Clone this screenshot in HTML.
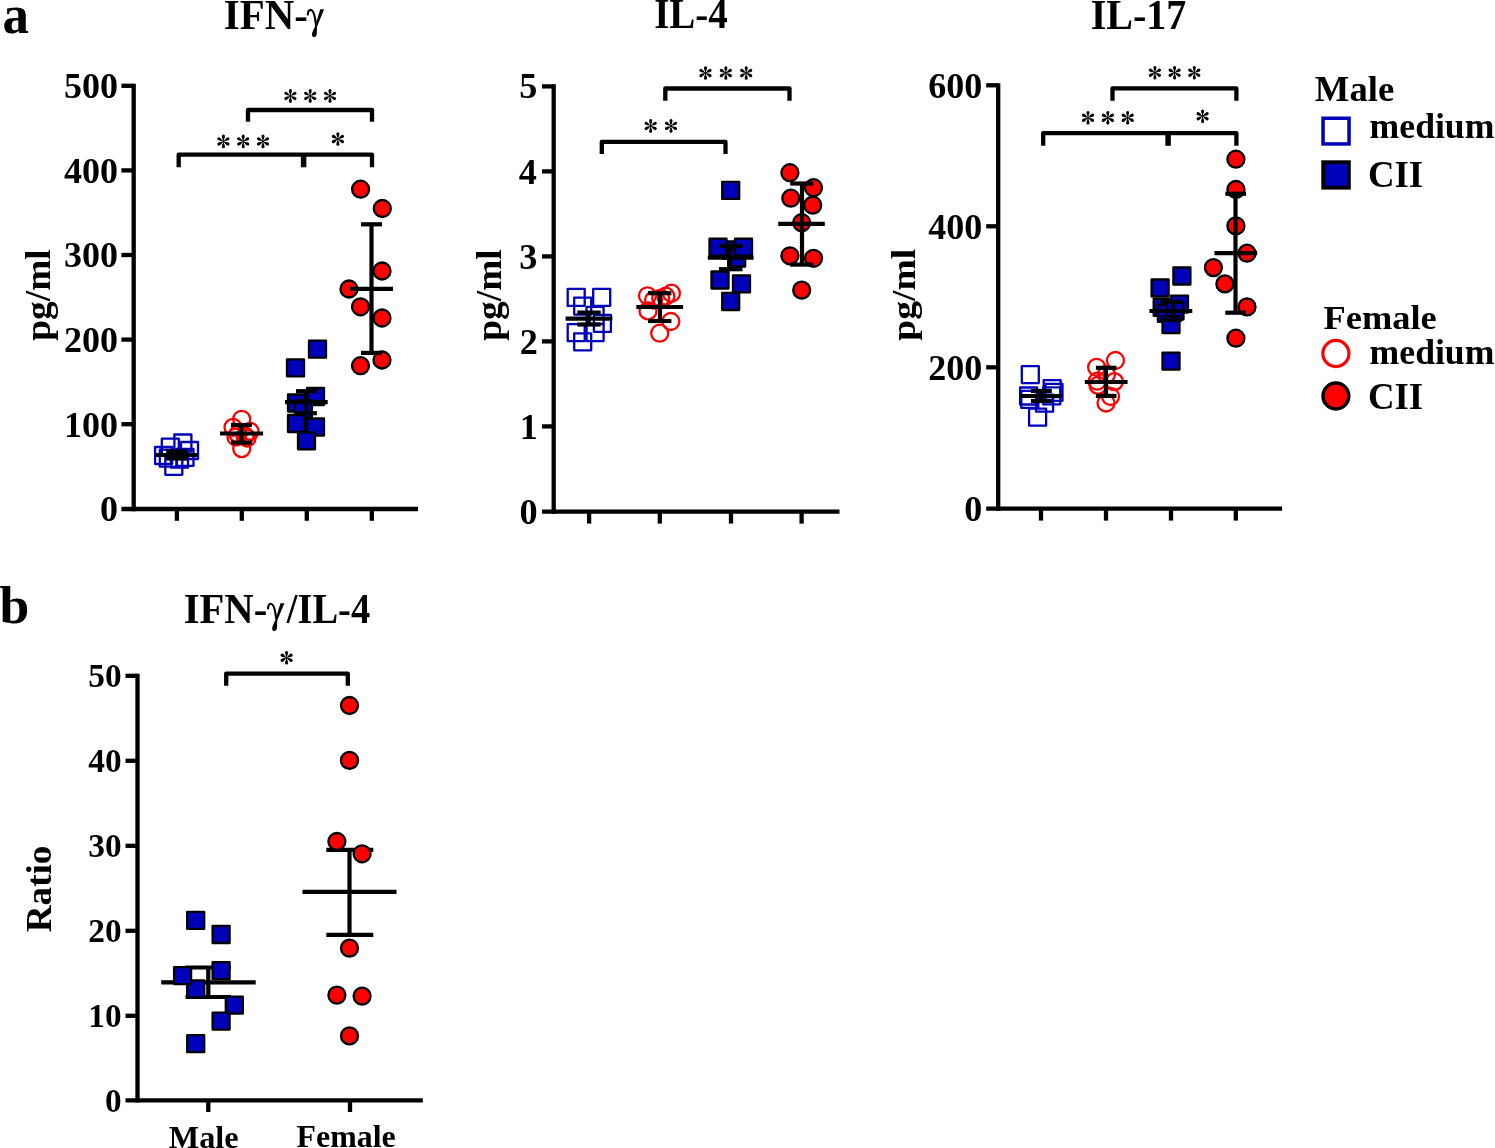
<!DOCTYPE html>
<html><head><meta charset="utf-8"><style>
html,body{margin:0;padding:0;background:#fff;}
body{width:1495px;height:1148px;overflow:hidden;}
svg{display:block;will-change:transform;}
svg text{font-family:'Liberation Serif',serif;font-weight:bold;fill:#000;}
</style></head><body>
<svg width="1495" height="1148" viewBox="0 0 1495 1148">
<text transform="translate(2.41,32.94) scale(0.9522,1)" x="0" y="0" font-size="55.62">a</text>
<text transform="translate(-0.40,623.47) scale(1.0158,1)" x="0" y="0" font-size="52.77">b</text>
<text transform="translate(223.77,28.70) scale(0.9697,1)" x="0" y="0" font-size="42.14">IFN-</text>
<g transform="translate(306.80,8.80)"><path d="M1.05,5.8 C1.05,2.6 2.25,1.05 3.65,1.05 C6.25,1.05 7.55,5.2 8.35,10.2 L9.25,16.2" fill="none" stroke="#000" stroke-width="2.1" stroke-linecap="round"/><path d="M13.45,0.5 L17.35,0.5 L10.35,17.5 L8.85,15.7 Z" fill="#000"/><path d="M8.55,16.7 C7.45,19.7 5.15,23.2 5.15,26 C5.15,27.4 6.15,28.3 7.35,28.3 C8.95,28.3 10.05,26.7 10.05,24.2 C10.05,21.2 10.15,18.7 10.35,16.7 Z" fill="#000"/></g>
<text transform="translate(654.13,28.40) scale(0.9433,1)" x="0" y="0" font-size="41.36">IL-4</text>
<text transform="translate(1090.70,28.70) scale(0.9575,1)" x="0" y="0" font-size="41.82">IL-17</text>
<text transform="translate(183.68,622.80) scale(0.9614,1)" x="0" y="0" font-size="42.29">IFN-</text>
<g transform="translate(267.00,602.70)"><path d="M1.05,5.8 C1.05,2.6 2.25,1.05 3.65,1.05 C6.25,1.05 7.55,5.2 8.35,10.2 L9.25,16.2" fill="none" stroke="#000" stroke-width="2.1" stroke-linecap="round"/><path d="M13.45,0.5 L17.35,0.5 L10.35,17.5 L8.85,15.7 Z" fill="#000"/><path d="M8.55,16.7 C7.45,19.7 5.15,23.2 5.15,26 C5.15,27.4 6.15,28.3 7.35,28.3 C8.95,28.3 10.05,26.7 10.05,24.2 C10.05,21.2 10.15,18.7 10.35,16.7 Z" fill="#000"/></g>
<text transform="translate(286.78,622.78) scale(0.9172,1)" x="0" y="0" font-size="41.94">/IL-4</text>
<text transform="translate(50.13,340.66) rotate(-90) scale(1.0712,1)" x="0" y="0" font-size="34.86">pg/ml</text>
<text transform="translate(501.43,340.66) rotate(-90) scale(1.0712,1)" x="0" y="0" font-size="34.86">pg/ml</text>
<text transform="translate(914.78,340.66) rotate(-90) scale(1.0839,1)" x="0" y="0" font-size="34.64">pg/ml</text>
<text transform="translate(50.54,932.26) rotate(-90) scale(1.0434,1)" x="0" y="0" font-size="35.60">Ratio</text>
<text x="168.72" y="1147.54" font-size="32.28">Male</text>
<text x="296.62" y="1147.26" font-size="31.89">Female</text>
<text transform="translate(1314.85,100.85) scale(1.0421,1)" x="0" y="0" font-size="35.18">Male</text>
<text transform="translate(1369.61,138.35) scale(1.0137,1)" x="0" y="0" font-size="35.18">medium</text>
<text transform="translate(1367.96,187.22) scale(0.9712,1)" x="0" y="0" font-size="37.91">CII</text>
<text transform="translate(1323.55,329.26) scale(1.0787,1)" x="0" y="0" font-size="33.76">Female</text>
<text transform="translate(1369.61,363.95) scale(1.0137,1)" x="0" y="0" font-size="35.18">medium</text>
<text transform="translate(1367.96,409.02) scale(0.9712,1)" x="0" y="0" font-size="37.91">CII</text>
<rect x="1323.05" y="118.25" width="26.00" height="25.70" fill="none" stroke="#0000BB" stroke-width="3.5"/>
<rect x="1323.20" y="162.20" width="25.70" height="25.50" fill="#0000BB" stroke="#000" stroke-width="3.8"/>
<circle cx="1335.9" cy="353.5" r="13.05" fill="none" stroke="#FF0000" stroke-width="3.2"/>
<circle cx="1335.9" cy="396" r="12.95" fill="#FF0000" stroke="#000" stroke-width="3.4"/>
<line x1="133.70" y1="83.65" x2="133.70" y2="511.15" stroke="#000" stroke-width="4.3" stroke-linecap="butt"/>
<line x1="121.40" y1="85.80" x2="133.70" y2="85.80" stroke="#000" stroke-width="4.3" stroke-linecap="butt"/>
<line x1="121.40" y1="170.40" x2="133.70" y2="170.40" stroke="#000" stroke-width="4.3" stroke-linecap="butt"/>
<line x1="121.40" y1="255.00" x2="133.70" y2="255.00" stroke="#000" stroke-width="4.3" stroke-linecap="butt"/>
<line x1="121.40" y1="339.60" x2="133.70" y2="339.60" stroke="#000" stroke-width="4.3" stroke-linecap="butt"/>
<line x1="121.40" y1="424.20" x2="133.70" y2="424.20" stroke="#000" stroke-width="4.3" stroke-linecap="butt"/>
<line x1="121.40" y1="509.00" x2="418.00" y2="509.00" stroke="#000" stroke-width="4.3" stroke-linecap="butt"/>
<line x1="176.90" y1="509.00" x2="176.90" y2="520.80" stroke="#000" stroke-width="4.3" stroke-linecap="butt"/>
<line x1="241.80" y1="509.00" x2="241.80" y2="520.80" stroke="#000" stroke-width="4.3" stroke-linecap="butt"/>
<line x1="306.80" y1="509.00" x2="306.80" y2="520.80" stroke="#000" stroke-width="4.3" stroke-linecap="butt"/>
<line x1="371.80" y1="509.00" x2="371.80" y2="520.80" stroke="#000" stroke-width="4.3" stroke-linecap="butt"/>
<text x="63.94" y="98.19" font-size="36.00" text-anchor="start">500</text>
<text x="63.94" y="182.79" font-size="36.00" text-anchor="start">400</text>
<text x="63.94" y="267.39" font-size="36.00" text-anchor="start">300</text>
<text x="63.94" y="351.99" font-size="36.00" text-anchor="start">200</text>
<text x="63.94" y="436.59" font-size="36.00" text-anchor="start">100</text>
<text x="99.94" y="521.19" font-size="36.00" text-anchor="start">0</text>
<path d="M248.00,121.70 L248.00,110.00 L372.00,110.00 L372.00,121.70" fill="none" stroke="#000" stroke-width="4.3" stroke-linejoin="round"/>
<path d="M178.70,167.30 L178.70,154.70 L372.00,154.70 L372.00,167.30" fill="none" stroke="#000" stroke-width="4.3" stroke-linejoin="round"/>
<line x1="303.60" y1="154.70" x2="303.60" y2="167.30" stroke="#000" stroke-width="5.5" stroke-linecap="butt"/>
<g fill="#000"><path transform="translate(290.40,95.90) rotate(0)" d="M0,0 C-0.45,-1.8 -1.55,-3.6 -1.55,-5.25 A1.55,1.55 0 0 1 1.55,-5.25 C1.55,-3.6 0.45,-1.8 0,0 Z"/><path transform="translate(290.40,95.90) rotate(60)" d="M0,0 C-0.45,-1.8 -1.55,-3.6 -1.55,-5.25 A1.55,1.55 0 0 1 1.55,-5.25 C1.55,-3.6 0.45,-1.8 0,0 Z"/><path transform="translate(290.40,95.90) rotate(120)" d="M0,0 C-0.45,-1.8 -1.55,-3.6 -1.55,-5.25 A1.55,1.55 0 0 1 1.55,-5.25 C1.55,-3.6 0.45,-1.8 0,0 Z"/><path transform="translate(290.40,95.90) rotate(180)" d="M0,0 C-0.45,-1.8 -1.55,-3.6 -1.55,-5.25 A1.55,1.55 0 0 1 1.55,-5.25 C1.55,-3.6 0.45,-1.8 0,0 Z"/><path transform="translate(290.40,95.90) rotate(240)" d="M0,0 C-0.45,-1.8 -1.55,-3.6 -1.55,-5.25 A1.55,1.55 0 0 1 1.55,-5.25 C1.55,-3.6 0.45,-1.8 0,0 Z"/><path transform="translate(290.40,95.90) rotate(300)" d="M0,0 C-0.45,-1.8 -1.55,-3.6 -1.55,-5.25 A1.55,1.55 0 0 1 1.55,-5.25 C1.55,-3.6 0.45,-1.8 0,0 Z"/><circle cx="290.40" cy="95.90" r="1.1"/></g>
<g fill="#000"><path transform="translate(310.20,95.90) rotate(0)" d="M0,0 C-0.45,-1.8 -1.55,-3.6 -1.55,-5.25 A1.55,1.55 0 0 1 1.55,-5.25 C1.55,-3.6 0.45,-1.8 0,0 Z"/><path transform="translate(310.20,95.90) rotate(60)" d="M0,0 C-0.45,-1.8 -1.55,-3.6 -1.55,-5.25 A1.55,1.55 0 0 1 1.55,-5.25 C1.55,-3.6 0.45,-1.8 0,0 Z"/><path transform="translate(310.20,95.90) rotate(120)" d="M0,0 C-0.45,-1.8 -1.55,-3.6 -1.55,-5.25 A1.55,1.55 0 0 1 1.55,-5.25 C1.55,-3.6 0.45,-1.8 0,0 Z"/><path transform="translate(310.20,95.90) rotate(180)" d="M0,0 C-0.45,-1.8 -1.55,-3.6 -1.55,-5.25 A1.55,1.55 0 0 1 1.55,-5.25 C1.55,-3.6 0.45,-1.8 0,0 Z"/><path transform="translate(310.20,95.90) rotate(240)" d="M0,0 C-0.45,-1.8 -1.55,-3.6 -1.55,-5.25 A1.55,1.55 0 0 1 1.55,-5.25 C1.55,-3.6 0.45,-1.8 0,0 Z"/><path transform="translate(310.20,95.90) rotate(300)" d="M0,0 C-0.45,-1.8 -1.55,-3.6 -1.55,-5.25 A1.55,1.55 0 0 1 1.55,-5.25 C1.55,-3.6 0.45,-1.8 0,0 Z"/><circle cx="310.20" cy="95.90" r="1.1"/></g>
<g fill="#000"><path transform="translate(330.00,95.90) rotate(0)" d="M0,0 C-0.45,-1.8 -1.55,-3.6 -1.55,-5.25 A1.55,1.55 0 0 1 1.55,-5.25 C1.55,-3.6 0.45,-1.8 0,0 Z"/><path transform="translate(330.00,95.90) rotate(60)" d="M0,0 C-0.45,-1.8 -1.55,-3.6 -1.55,-5.25 A1.55,1.55 0 0 1 1.55,-5.25 C1.55,-3.6 0.45,-1.8 0,0 Z"/><path transform="translate(330.00,95.90) rotate(120)" d="M0,0 C-0.45,-1.8 -1.55,-3.6 -1.55,-5.25 A1.55,1.55 0 0 1 1.55,-5.25 C1.55,-3.6 0.45,-1.8 0,0 Z"/><path transform="translate(330.00,95.90) rotate(180)" d="M0,0 C-0.45,-1.8 -1.55,-3.6 -1.55,-5.25 A1.55,1.55 0 0 1 1.55,-5.25 C1.55,-3.6 0.45,-1.8 0,0 Z"/><path transform="translate(330.00,95.90) rotate(240)" d="M0,0 C-0.45,-1.8 -1.55,-3.6 -1.55,-5.25 A1.55,1.55 0 0 1 1.55,-5.25 C1.55,-3.6 0.45,-1.8 0,0 Z"/><path transform="translate(330.00,95.90) rotate(300)" d="M0,0 C-0.45,-1.8 -1.55,-3.6 -1.55,-5.25 A1.55,1.55 0 0 1 1.55,-5.25 C1.55,-3.6 0.45,-1.8 0,0 Z"/><circle cx="330.00" cy="95.90" r="1.1"/></g>
<g fill="#000"><path transform="translate(223.40,141.40) rotate(0)" d="M0,0 C-0.45,-1.8 -1.55,-3.6 -1.55,-5.25 A1.55,1.55 0 0 1 1.55,-5.25 C1.55,-3.6 0.45,-1.8 0,0 Z"/><path transform="translate(223.40,141.40) rotate(60)" d="M0,0 C-0.45,-1.8 -1.55,-3.6 -1.55,-5.25 A1.55,1.55 0 0 1 1.55,-5.25 C1.55,-3.6 0.45,-1.8 0,0 Z"/><path transform="translate(223.40,141.40) rotate(120)" d="M0,0 C-0.45,-1.8 -1.55,-3.6 -1.55,-5.25 A1.55,1.55 0 0 1 1.55,-5.25 C1.55,-3.6 0.45,-1.8 0,0 Z"/><path transform="translate(223.40,141.40) rotate(180)" d="M0,0 C-0.45,-1.8 -1.55,-3.6 -1.55,-5.25 A1.55,1.55 0 0 1 1.55,-5.25 C1.55,-3.6 0.45,-1.8 0,0 Z"/><path transform="translate(223.40,141.40) rotate(240)" d="M0,0 C-0.45,-1.8 -1.55,-3.6 -1.55,-5.25 A1.55,1.55 0 0 1 1.55,-5.25 C1.55,-3.6 0.45,-1.8 0,0 Z"/><path transform="translate(223.40,141.40) rotate(300)" d="M0,0 C-0.45,-1.8 -1.55,-3.6 -1.55,-5.25 A1.55,1.55 0 0 1 1.55,-5.25 C1.55,-3.6 0.45,-1.8 0,0 Z"/><circle cx="223.40" cy="141.40" r="1.1"/></g>
<g fill="#000"><path transform="translate(243.20,141.40) rotate(0)" d="M0,0 C-0.45,-1.8 -1.55,-3.6 -1.55,-5.25 A1.55,1.55 0 0 1 1.55,-5.25 C1.55,-3.6 0.45,-1.8 0,0 Z"/><path transform="translate(243.20,141.40) rotate(60)" d="M0,0 C-0.45,-1.8 -1.55,-3.6 -1.55,-5.25 A1.55,1.55 0 0 1 1.55,-5.25 C1.55,-3.6 0.45,-1.8 0,0 Z"/><path transform="translate(243.20,141.40) rotate(120)" d="M0,0 C-0.45,-1.8 -1.55,-3.6 -1.55,-5.25 A1.55,1.55 0 0 1 1.55,-5.25 C1.55,-3.6 0.45,-1.8 0,0 Z"/><path transform="translate(243.20,141.40) rotate(180)" d="M0,0 C-0.45,-1.8 -1.55,-3.6 -1.55,-5.25 A1.55,1.55 0 0 1 1.55,-5.25 C1.55,-3.6 0.45,-1.8 0,0 Z"/><path transform="translate(243.20,141.40) rotate(240)" d="M0,0 C-0.45,-1.8 -1.55,-3.6 -1.55,-5.25 A1.55,1.55 0 0 1 1.55,-5.25 C1.55,-3.6 0.45,-1.8 0,0 Z"/><path transform="translate(243.20,141.40) rotate(300)" d="M0,0 C-0.45,-1.8 -1.55,-3.6 -1.55,-5.25 A1.55,1.55 0 0 1 1.55,-5.25 C1.55,-3.6 0.45,-1.8 0,0 Z"/><circle cx="243.20" cy="141.40" r="1.1"/></g>
<g fill="#000"><path transform="translate(263.00,141.40) rotate(0)" d="M0,0 C-0.45,-1.8 -1.55,-3.6 -1.55,-5.25 A1.55,1.55 0 0 1 1.55,-5.25 C1.55,-3.6 0.45,-1.8 0,0 Z"/><path transform="translate(263.00,141.40) rotate(60)" d="M0,0 C-0.45,-1.8 -1.55,-3.6 -1.55,-5.25 A1.55,1.55 0 0 1 1.55,-5.25 C1.55,-3.6 0.45,-1.8 0,0 Z"/><path transform="translate(263.00,141.40) rotate(120)" d="M0,0 C-0.45,-1.8 -1.55,-3.6 -1.55,-5.25 A1.55,1.55 0 0 1 1.55,-5.25 C1.55,-3.6 0.45,-1.8 0,0 Z"/><path transform="translate(263.00,141.40) rotate(180)" d="M0,0 C-0.45,-1.8 -1.55,-3.6 -1.55,-5.25 A1.55,1.55 0 0 1 1.55,-5.25 C1.55,-3.6 0.45,-1.8 0,0 Z"/><path transform="translate(263.00,141.40) rotate(240)" d="M0,0 C-0.45,-1.8 -1.55,-3.6 -1.55,-5.25 A1.55,1.55 0 0 1 1.55,-5.25 C1.55,-3.6 0.45,-1.8 0,0 Z"/><path transform="translate(263.00,141.40) rotate(300)" d="M0,0 C-0.45,-1.8 -1.55,-3.6 -1.55,-5.25 A1.55,1.55 0 0 1 1.55,-5.25 C1.55,-3.6 0.45,-1.8 0,0 Z"/><circle cx="263.00" cy="141.40" r="1.1"/></g>
<g fill="#000"><path transform="translate(337.90,139.00) rotate(0)" d="M0,0 C-0.45,-1.8 -1.55,-3.6 -1.55,-5.25 A1.55,1.55 0 0 1 1.55,-5.25 C1.55,-3.6 0.45,-1.8 0,0 Z"/><path transform="translate(337.90,139.00) rotate(60)" d="M0,0 C-0.45,-1.8 -1.55,-3.6 -1.55,-5.25 A1.55,1.55 0 0 1 1.55,-5.25 C1.55,-3.6 0.45,-1.8 0,0 Z"/><path transform="translate(337.90,139.00) rotate(120)" d="M0,0 C-0.45,-1.8 -1.55,-3.6 -1.55,-5.25 A1.55,1.55 0 0 1 1.55,-5.25 C1.55,-3.6 0.45,-1.8 0,0 Z"/><path transform="translate(337.90,139.00) rotate(180)" d="M0,0 C-0.45,-1.8 -1.55,-3.6 -1.55,-5.25 A1.55,1.55 0 0 1 1.55,-5.25 C1.55,-3.6 0.45,-1.8 0,0 Z"/><path transform="translate(337.90,139.00) rotate(240)" d="M0,0 C-0.45,-1.8 -1.55,-3.6 -1.55,-5.25 A1.55,1.55 0 0 1 1.55,-5.25 C1.55,-3.6 0.45,-1.8 0,0 Z"/><path transform="translate(337.90,139.00) rotate(300)" d="M0,0 C-0.45,-1.8 -1.55,-3.6 -1.55,-5.25 A1.55,1.55 0 0 1 1.55,-5.25 C1.55,-3.6 0.45,-1.8 0,0 Z"/><circle cx="337.90" cy="139.00" r="1.1"/></g>
<rect x="174.40" y="434.50" width="17.0" height="17.0" fill="none" stroke="#0000BB" stroke-width="2.3" stroke-linejoin="round"/>
<rect x="161.80" y="438.70" width="17.0" height="17.0" fill="none" stroke="#0000BB" stroke-width="2.3" stroke-linejoin="round"/>
<rect x="181.00" y="442.00" width="17.0" height="17.0" fill="none" stroke="#0000BB" stroke-width="2.3" stroke-linejoin="round"/>
<rect x="155.10" y="447.00" width="17.0" height="17.0" fill="none" stroke="#0000BB" stroke-width="2.3" stroke-linejoin="round"/>
<rect x="159.80" y="449.70" width="17.0" height="17.0" fill="none" stroke="#0000BB" stroke-width="2.3" stroke-linejoin="round"/>
<rect x="165.30" y="457.80" width="17.0" height="17.0" fill="none" stroke="#0000BB" stroke-width="2.3" stroke-linejoin="round"/>
<rect x="176.50" y="448.90" width="17.0" height="17.0" fill="none" stroke="#0000BB" stroke-width="2.3" stroke-linejoin="round"/>
<rect x="171.00" y="450.70" width="17.0" height="17.0" fill="none" stroke="#0000BB" stroke-width="2.3" stroke-linejoin="round"/>
<line x1="177.00" y1="451.50" x2="177.00" y2="458.50" stroke="#000" stroke-width="4.2" stroke-linecap="butt"/>
<line x1="166.20" y1="451.50" x2="187.10" y2="451.50" stroke="#000" stroke-width="4.2" stroke-linecap="butt"/>
<line x1="166.20" y1="458.50" x2="187.10" y2="458.50" stroke="#000" stroke-width="4.2" stroke-linecap="butt"/>
<line x1="155.20" y1="455.00" x2="197.80" y2="455.00" stroke="#000" stroke-width="4.2" stroke-linecap="butt"/>
<circle cx="241.70" cy="419.30" r="8.5" fill="none" stroke="#FF0000" stroke-width="2.3"/>
<circle cx="233.00" cy="427.40" r="8.5" fill="none" stroke="#FF0000" stroke-width="2.3"/>
<circle cx="250.00" cy="431.40" r="8.5" fill="none" stroke="#FF0000" stroke-width="2.3"/>
<circle cx="241.70" cy="448.60" r="8.5" fill="none" stroke="#FF0000" stroke-width="2.3"/>
<circle cx="238.00" cy="434.00" r="8.5" fill="none" stroke="#FF0000" stroke-width="2.3"/>
<circle cx="245.00" cy="436.00" r="8.5" fill="none" stroke="#FF0000" stroke-width="2.3"/>
<circle cx="236.00" cy="437.00" r="8.5" fill="none" stroke="#FF0000" stroke-width="2.3"/>
<circle cx="247.00" cy="438.00" r="8.5" fill="none" stroke="#FF0000" stroke-width="2.3"/>
<line x1="241.30" y1="425.00" x2="241.30" y2="442.60" stroke="#000" stroke-width="4.2" stroke-linecap="butt"/>
<line x1="231.00" y1="425.00" x2="251.90" y2="425.00" stroke="#000" stroke-width="4.2" stroke-linecap="butt"/>
<line x1="231.00" y1="442.60" x2="251.90" y2="442.60" stroke="#000" stroke-width="4.2" stroke-linecap="butt"/>
<line x1="220.00" y1="433.50" x2="263.10" y2="433.50" stroke="#000" stroke-width="4.2" stroke-linecap="butt"/>
<rect x="309.00" y="340.70" width="17.0" height="17.0" fill="#0000BB" stroke="#000" stroke-width="2.3" stroke-linejoin="round"/>
<rect x="287.00" y="359.40" width="17.0" height="17.0" fill="#0000BB" stroke="#000" stroke-width="2.3" stroke-linejoin="round"/>
<rect x="307.00" y="388.00" width="17.0" height="17.0" fill="#0000BB" stroke="#000" stroke-width="2.3" stroke-linejoin="round"/>
<rect x="288.00" y="394.50" width="17.0" height="17.0" fill="#0000BB" stroke="#000" stroke-width="2.3" stroke-linejoin="round"/>
<rect x="294.90" y="400.50" width="17.0" height="17.0" fill="#0000BB" stroke="#000" stroke-width="2.3" stroke-linejoin="round"/>
<rect x="288.00" y="415.00" width="17.0" height="17.0" fill="#0000BB" stroke="#000" stroke-width="2.3" stroke-linejoin="round"/>
<rect x="307.00" y="418.50" width="17.0" height="17.0" fill="#0000BB" stroke="#000" stroke-width="2.3" stroke-linejoin="round"/>
<rect x="298.00" y="432.30" width="17.0" height="17.0" fill="#0000BB" stroke="#000" stroke-width="2.3" stroke-linejoin="round"/>
<line x1="306.40" y1="391.20" x2="306.40" y2="413.20" stroke="#000" stroke-width="4.2" stroke-linecap="butt"/>
<line x1="296.00" y1="391.20" x2="316.90" y2="391.20" stroke="#000" stroke-width="4.2" stroke-linecap="butt"/>
<line x1="296.00" y1="413.20" x2="316.90" y2="413.20" stroke="#000" stroke-width="4.2" stroke-linecap="butt"/>
<line x1="285.00" y1="402.20" x2="327.70" y2="402.20" stroke="#000" stroke-width="4.2" stroke-linecap="butt"/>
<circle cx="360.60" cy="189.20" r="8.5" fill="#FF0000" stroke="#000" stroke-width="2.3"/>
<circle cx="382.30" cy="208.50" r="8.5" fill="#FF0000" stroke="#000" stroke-width="2.3"/>
<circle cx="382.00" cy="271.00" r="8.5" fill="#FF0000" stroke="#000" stroke-width="2.3"/>
<circle cx="349.00" cy="289.00" r="8.5" fill="#FF0000" stroke="#000" stroke-width="2.3"/>
<circle cx="360.50" cy="306.80" r="8.5" fill="#FF0000" stroke="#000" stroke-width="2.3"/>
<circle cx="382.00" cy="318.00" r="8.5" fill="#FF0000" stroke="#000" stroke-width="2.3"/>
<circle cx="382.00" cy="360.00" r="8.5" fill="#FF0000" stroke="#000" stroke-width="2.3"/>
<circle cx="360.50" cy="365.70" r="8.5" fill="#FF0000" stroke="#000" stroke-width="2.3"/>
<line x1="371.50" y1="224.30" x2="371.50" y2="352.90" stroke="#000" stroke-width="4.2" stroke-linecap="butt"/>
<line x1="361.00" y1="224.30" x2="382.00" y2="224.30" stroke="#000" stroke-width="4.2" stroke-linecap="butt"/>
<line x1="361.00" y1="352.90" x2="382.00" y2="352.90" stroke="#000" stroke-width="4.2" stroke-linecap="butt"/>
<line x1="350.00" y1="288.90" x2="393.00" y2="288.90" stroke="#000" stroke-width="4.2" stroke-linecap="butt"/>
<line x1="553.70" y1="84.25" x2="553.70" y2="513.85" stroke="#000" stroke-width="4.3" stroke-linecap="butt"/>
<line x1="542.00" y1="86.40" x2="553.70" y2="86.40" stroke="#000" stroke-width="4.3" stroke-linecap="butt"/>
<line x1="542.00" y1="171.40" x2="553.70" y2="171.40" stroke="#000" stroke-width="4.3" stroke-linecap="butt"/>
<line x1="542.00" y1="256.40" x2="553.70" y2="256.40" stroke="#000" stroke-width="4.3" stroke-linecap="butt"/>
<line x1="542.00" y1="341.40" x2="553.70" y2="341.40" stroke="#000" stroke-width="4.3" stroke-linecap="butt"/>
<line x1="542.00" y1="426.40" x2="553.70" y2="426.40" stroke="#000" stroke-width="4.3" stroke-linecap="butt"/>
<line x1="542.00" y1="511.70" x2="839.50" y2="511.70" stroke="#000" stroke-width="4.3" stroke-linecap="butt"/>
<line x1="589.10" y1="511.70" x2="589.10" y2="523.60" stroke="#000" stroke-width="4.3" stroke-linecap="butt"/>
<line x1="659.80" y1="511.70" x2="659.80" y2="523.60" stroke="#000" stroke-width="4.3" stroke-linecap="butt"/>
<line x1="731.00" y1="511.70" x2="731.00" y2="523.60" stroke="#000" stroke-width="4.3" stroke-linecap="butt"/>
<line x1="801.60" y1="511.70" x2="801.60" y2="523.60" stroke="#000" stroke-width="4.3" stroke-linecap="butt"/>
<text x="519.27" y="98.47" font-size="36.20" text-anchor="start">5</text>
<text x="518.72" y="183.75" font-size="36.20" text-anchor="start">4</text>
<text x="519.27" y="268.56" font-size="36.20" text-anchor="start">3</text>
<text x="519.63" y="353.75" font-size="36.20" text-anchor="start">2</text>
<text x="519.81" y="438.75" font-size="36.20" text-anchor="start">1</text>
<text x="519.45" y="523.66" font-size="36.20" text-anchor="start">0</text>
<path d="M665.30,100.70 L665.30,88.50 L789.50,88.50 L789.50,100.70" fill="none" stroke="#000" stroke-width="4.3" stroke-linejoin="round"/>
<path d="M601.80,154.00 L601.80,141.90 L725.50,141.90 L725.50,154.00" fill="none" stroke="#000" stroke-width="4.3" stroke-linejoin="round"/>
<g fill="#000"><path transform="translate(705.50,73.00) rotate(0)" d="M0,0 C-0.45,-1.8 -1.55,-3.6 -1.55,-5.25 A1.55,1.55 0 0 1 1.55,-5.25 C1.55,-3.6 0.45,-1.8 0,0 Z"/><path transform="translate(705.50,73.00) rotate(60)" d="M0,0 C-0.45,-1.8 -1.55,-3.6 -1.55,-5.25 A1.55,1.55 0 0 1 1.55,-5.25 C1.55,-3.6 0.45,-1.8 0,0 Z"/><path transform="translate(705.50,73.00) rotate(120)" d="M0,0 C-0.45,-1.8 -1.55,-3.6 -1.55,-5.25 A1.55,1.55 0 0 1 1.55,-5.25 C1.55,-3.6 0.45,-1.8 0,0 Z"/><path transform="translate(705.50,73.00) rotate(180)" d="M0,0 C-0.45,-1.8 -1.55,-3.6 -1.55,-5.25 A1.55,1.55 0 0 1 1.55,-5.25 C1.55,-3.6 0.45,-1.8 0,0 Z"/><path transform="translate(705.50,73.00) rotate(240)" d="M0,0 C-0.45,-1.8 -1.55,-3.6 -1.55,-5.25 A1.55,1.55 0 0 1 1.55,-5.25 C1.55,-3.6 0.45,-1.8 0,0 Z"/><path transform="translate(705.50,73.00) rotate(300)" d="M0,0 C-0.45,-1.8 -1.55,-3.6 -1.55,-5.25 A1.55,1.55 0 0 1 1.55,-5.25 C1.55,-3.6 0.45,-1.8 0,0 Z"/><circle cx="705.50" cy="73.00" r="1.1"/></g>
<g fill="#000"><path transform="translate(725.85,73.00) rotate(0)" d="M0,0 C-0.45,-1.8 -1.55,-3.6 -1.55,-5.25 A1.55,1.55 0 0 1 1.55,-5.25 C1.55,-3.6 0.45,-1.8 0,0 Z"/><path transform="translate(725.85,73.00) rotate(60)" d="M0,0 C-0.45,-1.8 -1.55,-3.6 -1.55,-5.25 A1.55,1.55 0 0 1 1.55,-5.25 C1.55,-3.6 0.45,-1.8 0,0 Z"/><path transform="translate(725.85,73.00) rotate(120)" d="M0,0 C-0.45,-1.8 -1.55,-3.6 -1.55,-5.25 A1.55,1.55 0 0 1 1.55,-5.25 C1.55,-3.6 0.45,-1.8 0,0 Z"/><path transform="translate(725.85,73.00) rotate(180)" d="M0,0 C-0.45,-1.8 -1.55,-3.6 -1.55,-5.25 A1.55,1.55 0 0 1 1.55,-5.25 C1.55,-3.6 0.45,-1.8 0,0 Z"/><path transform="translate(725.85,73.00) rotate(240)" d="M0,0 C-0.45,-1.8 -1.55,-3.6 -1.55,-5.25 A1.55,1.55 0 0 1 1.55,-5.25 C1.55,-3.6 0.45,-1.8 0,0 Z"/><path transform="translate(725.85,73.00) rotate(300)" d="M0,0 C-0.45,-1.8 -1.55,-3.6 -1.55,-5.25 A1.55,1.55 0 0 1 1.55,-5.25 C1.55,-3.6 0.45,-1.8 0,0 Z"/><circle cx="725.85" cy="73.00" r="1.1"/></g>
<g fill="#000"><path transform="translate(746.20,73.00) rotate(0)" d="M0,0 C-0.45,-1.8 -1.55,-3.6 -1.55,-5.25 A1.55,1.55 0 0 1 1.55,-5.25 C1.55,-3.6 0.45,-1.8 0,0 Z"/><path transform="translate(746.20,73.00) rotate(60)" d="M0,0 C-0.45,-1.8 -1.55,-3.6 -1.55,-5.25 A1.55,1.55 0 0 1 1.55,-5.25 C1.55,-3.6 0.45,-1.8 0,0 Z"/><path transform="translate(746.20,73.00) rotate(120)" d="M0,0 C-0.45,-1.8 -1.55,-3.6 -1.55,-5.25 A1.55,1.55 0 0 1 1.55,-5.25 C1.55,-3.6 0.45,-1.8 0,0 Z"/><path transform="translate(746.20,73.00) rotate(180)" d="M0,0 C-0.45,-1.8 -1.55,-3.6 -1.55,-5.25 A1.55,1.55 0 0 1 1.55,-5.25 C1.55,-3.6 0.45,-1.8 0,0 Z"/><path transform="translate(746.20,73.00) rotate(240)" d="M0,0 C-0.45,-1.8 -1.55,-3.6 -1.55,-5.25 A1.55,1.55 0 0 1 1.55,-5.25 C1.55,-3.6 0.45,-1.8 0,0 Z"/><path transform="translate(746.20,73.00) rotate(300)" d="M0,0 C-0.45,-1.8 -1.55,-3.6 -1.55,-5.25 A1.55,1.55 0 0 1 1.55,-5.25 C1.55,-3.6 0.45,-1.8 0,0 Z"/><circle cx="746.20" cy="73.00" r="1.1"/></g>
<g fill="#000"><path transform="translate(650.70,125.90) rotate(0)" d="M0,0 C-0.45,-1.8 -1.55,-3.6 -1.55,-5.25 A1.55,1.55 0 0 1 1.55,-5.25 C1.55,-3.6 0.45,-1.8 0,0 Z"/><path transform="translate(650.70,125.90) rotate(60)" d="M0,0 C-0.45,-1.8 -1.55,-3.6 -1.55,-5.25 A1.55,1.55 0 0 1 1.55,-5.25 C1.55,-3.6 0.45,-1.8 0,0 Z"/><path transform="translate(650.70,125.90) rotate(120)" d="M0,0 C-0.45,-1.8 -1.55,-3.6 -1.55,-5.25 A1.55,1.55 0 0 1 1.55,-5.25 C1.55,-3.6 0.45,-1.8 0,0 Z"/><path transform="translate(650.70,125.90) rotate(180)" d="M0,0 C-0.45,-1.8 -1.55,-3.6 -1.55,-5.25 A1.55,1.55 0 0 1 1.55,-5.25 C1.55,-3.6 0.45,-1.8 0,0 Z"/><path transform="translate(650.70,125.90) rotate(240)" d="M0,0 C-0.45,-1.8 -1.55,-3.6 -1.55,-5.25 A1.55,1.55 0 0 1 1.55,-5.25 C1.55,-3.6 0.45,-1.8 0,0 Z"/><path transform="translate(650.70,125.90) rotate(300)" d="M0,0 C-0.45,-1.8 -1.55,-3.6 -1.55,-5.25 A1.55,1.55 0 0 1 1.55,-5.25 C1.55,-3.6 0.45,-1.8 0,0 Z"/><circle cx="650.70" cy="125.90" r="1.1"/></g>
<g fill="#000"><path transform="translate(671.00,125.90) rotate(0)" d="M0,0 C-0.45,-1.8 -1.55,-3.6 -1.55,-5.25 A1.55,1.55 0 0 1 1.55,-5.25 C1.55,-3.6 0.45,-1.8 0,0 Z"/><path transform="translate(671.00,125.90) rotate(60)" d="M0,0 C-0.45,-1.8 -1.55,-3.6 -1.55,-5.25 A1.55,1.55 0 0 1 1.55,-5.25 C1.55,-3.6 0.45,-1.8 0,0 Z"/><path transform="translate(671.00,125.90) rotate(120)" d="M0,0 C-0.45,-1.8 -1.55,-3.6 -1.55,-5.25 A1.55,1.55 0 0 1 1.55,-5.25 C1.55,-3.6 0.45,-1.8 0,0 Z"/><path transform="translate(671.00,125.90) rotate(180)" d="M0,0 C-0.45,-1.8 -1.55,-3.6 -1.55,-5.25 A1.55,1.55 0 0 1 1.55,-5.25 C1.55,-3.6 0.45,-1.8 0,0 Z"/><path transform="translate(671.00,125.90) rotate(240)" d="M0,0 C-0.45,-1.8 -1.55,-3.6 -1.55,-5.25 A1.55,1.55 0 0 1 1.55,-5.25 C1.55,-3.6 0.45,-1.8 0,0 Z"/><path transform="translate(671.00,125.90) rotate(300)" d="M0,0 C-0.45,-1.8 -1.55,-3.6 -1.55,-5.25 A1.55,1.55 0 0 1 1.55,-5.25 C1.55,-3.6 0.45,-1.8 0,0 Z"/><circle cx="671.00" cy="125.90" r="1.1"/></g>
<rect x="567.70" y="288.90" width="17.0" height="17.0" fill="none" stroke="#0000BB" stroke-width="2.3" stroke-linejoin="round"/>
<rect x="593.20" y="288.90" width="17.0" height="17.0" fill="none" stroke="#0000BB" stroke-width="2.3" stroke-linejoin="round"/>
<rect x="574.20" y="297.60" width="17.0" height="17.0" fill="none" stroke="#0000BB" stroke-width="2.3" stroke-linejoin="round"/>
<rect x="586.60" y="306.80" width="17.0" height="17.0" fill="none" stroke="#0000BB" stroke-width="2.3" stroke-linejoin="round"/>
<rect x="593.90" y="314.90" width="17.0" height="17.0" fill="none" stroke="#0000BB" stroke-width="2.3" stroke-linejoin="round"/>
<rect x="567.70" y="324.20" width="17.0" height="17.0" fill="none" stroke="#0000BB" stroke-width="2.3" stroke-linejoin="round"/>
<rect x="586.60" y="324.20" width="17.0" height="17.0" fill="none" stroke="#0000BB" stroke-width="2.3" stroke-linejoin="round"/>
<rect x="574.20" y="333.30" width="17.0" height="17.0" fill="none" stroke="#0000BB" stroke-width="2.3" stroke-linejoin="round"/>
<line x1="588.60" y1="312.60" x2="588.60" y2="324.50" stroke="#000" stroke-width="4.2" stroke-linecap="butt"/>
<line x1="577.30" y1="312.60" x2="600.70" y2="312.60" stroke="#000" stroke-width="4.2" stroke-linecap="butt"/>
<line x1="577.30" y1="324.50" x2="600.70" y2="324.50" stroke="#000" stroke-width="4.2" stroke-linecap="butt"/>
<line x1="565.60" y1="318.70" x2="612.40" y2="318.70" stroke="#000" stroke-width="4.2" stroke-linecap="butt"/>
<circle cx="647.50" cy="295.80" r="8.5" fill="none" stroke="#FF0000" stroke-width="2.3"/>
<circle cx="671.40" cy="293.20" r="8.5" fill="none" stroke="#FF0000" stroke-width="2.3"/>
<circle cx="653.60" cy="300.00" r="8.5" fill="none" stroke="#FF0000" stroke-width="2.3"/>
<circle cx="660.70" cy="298.10" r="8.5" fill="none" stroke="#FF0000" stroke-width="2.3"/>
<circle cx="665.80" cy="296.20" r="8.5" fill="none" stroke="#FF0000" stroke-width="2.3"/>
<circle cx="648.00" cy="310.90" r="8.5" fill="none" stroke="#FF0000" stroke-width="2.3"/>
<circle cx="670.80" cy="321.50" r="8.5" fill="none" stroke="#FF0000" stroke-width="2.3"/>
<circle cx="659.70" cy="333.20" r="8.5" fill="none" stroke="#FF0000" stroke-width="2.3"/>
<line x1="660.00" y1="293.20" x2="660.00" y2="321.00" stroke="#000" stroke-width="4.2" stroke-linecap="butt"/>
<line x1="648.00" y1="293.20" x2="671.40" y2="293.20" stroke="#000" stroke-width="4.2" stroke-linecap="butt"/>
<line x1="648.00" y1="321.00" x2="671.40" y2="321.00" stroke="#000" stroke-width="4.2" stroke-linecap="butt"/>
<line x1="636.30" y1="307.00" x2="683.10" y2="307.00" stroke="#000" stroke-width="4.2" stroke-linecap="butt"/>
<rect x="722.20" y="181.90" width="17.0" height="17.0" fill="#0000BB" stroke="#000" stroke-width="2.3" stroke-linejoin="round"/>
<rect x="722.20" y="241.50" width="17.0" height="17.0" fill="#0000BB" stroke="#000" stroke-width="2.3" stroke-linejoin="round"/>
<rect x="728.20" y="249.50" width="17.0" height="17.0" fill="#0000BB" stroke="#000" stroke-width="2.3" stroke-linejoin="round"/>
<rect x="709.50" y="238.70" width="17.0" height="17.0" fill="#0000BB" stroke="#000" stroke-width="2.3" stroke-linejoin="round"/>
<rect x="735.00" y="238.70" width="17.0" height="17.0" fill="#0000BB" stroke="#000" stroke-width="2.3" stroke-linejoin="round"/>
<rect x="711.50" y="271.50" width="17.0" height="17.0" fill="#0000BB" stroke="#000" stroke-width="2.3" stroke-linejoin="round"/>
<rect x="733.00" y="275.40" width="17.0" height="17.0" fill="#0000BB" stroke="#000" stroke-width="2.3" stroke-linejoin="round"/>
<rect x="722.20" y="293.00" width="17.0" height="17.0" fill="#0000BB" stroke="#000" stroke-width="2.3" stroke-linejoin="round"/>
<line x1="730.00" y1="246.00" x2="730.00" y2="269.20" stroke="#000" stroke-width="4.2" stroke-linecap="butt"/>
<line x1="719.00" y1="246.00" x2="742.50" y2="246.00" stroke="#000" stroke-width="4.2" stroke-linecap="butt"/>
<line x1="719.00" y1="269.20" x2="742.50" y2="269.20" stroke="#000" stroke-width="4.2" stroke-linecap="butt"/>
<line x1="707.80" y1="257.70" x2="753.60" y2="257.70" stroke="#000" stroke-width="4.2" stroke-linecap="butt"/>
<circle cx="789.90" cy="172.70" r="8.5" fill="#FF0000" stroke="#000" stroke-width="2.3"/>
<circle cx="813.50" cy="187.70" r="8.5" fill="#FF0000" stroke="#000" stroke-width="2.3"/>
<circle cx="790.80" cy="198.20" r="8.5" fill="#FF0000" stroke="#000" stroke-width="2.3"/>
<circle cx="812.70" cy="205.10" r="8.5" fill="#FF0000" stroke="#000" stroke-width="2.3"/>
<circle cx="801.70" cy="222.70" r="8.5" fill="#FF0000" stroke="#000" stroke-width="2.3"/>
<circle cx="789.90" cy="255.80" r="8.5" fill="#FF0000" stroke="#000" stroke-width="2.3"/>
<circle cx="813.50" cy="258.30" r="8.5" fill="#FF0000" stroke="#000" stroke-width="2.3"/>
<circle cx="801.70" cy="290.10" r="8.5" fill="#FF0000" stroke="#000" stroke-width="2.3"/>
<line x1="802.00" y1="183.50" x2="802.00" y2="264.60" stroke="#000" stroke-width="4.2" stroke-linecap="butt"/>
<line x1="790.20" y1="183.50" x2="813.10" y2="183.50" stroke="#000" stroke-width="4.2" stroke-linecap="butt"/>
<line x1="790.20" y1="264.60" x2="813.10" y2="264.60" stroke="#000" stroke-width="4.2" stroke-linecap="butt"/>
<line x1="778.20" y1="223.80" x2="824.80" y2="223.80" stroke="#000" stroke-width="4.2" stroke-linecap="butt"/>
<line x1="998.20" y1="83.15" x2="998.20" y2="510.75" stroke="#000" stroke-width="4.3" stroke-linecap="butt"/>
<line x1="986.20" y1="85.30" x2="998.20" y2="85.30" stroke="#000" stroke-width="4.3" stroke-linecap="butt"/>
<line x1="986.20" y1="226.30" x2="998.20" y2="226.30" stroke="#000" stroke-width="4.3" stroke-linecap="butt"/>
<line x1="986.20" y1="367.30" x2="998.20" y2="367.30" stroke="#000" stroke-width="4.3" stroke-linecap="butt"/>
<line x1="986.20" y1="508.60" x2="1282.10" y2="508.60" stroke="#000" stroke-width="4.3" stroke-linecap="butt"/>
<line x1="1041.00" y1="508.60" x2="1041.00" y2="520.60" stroke="#000" stroke-width="4.3" stroke-linecap="butt"/>
<line x1="1106.00" y1="508.60" x2="1106.00" y2="520.60" stroke="#000" stroke-width="4.3" stroke-linecap="butt"/>
<line x1="1171.00" y1="508.60" x2="1171.00" y2="520.60" stroke="#000" stroke-width="4.3" stroke-linecap="butt"/>
<line x1="1235.80" y1="508.60" x2="1235.80" y2="520.60" stroke="#000" stroke-width="4.3" stroke-linecap="butt"/>
<text x="928.24" y="97.99" font-size="36.00" text-anchor="start">600</text>
<text x="928.24" y="238.99" font-size="36.00" text-anchor="start">400</text>
<text x="928.24" y="379.99" font-size="36.00" text-anchor="start">200</text>
<text x="964.24" y="520.99" font-size="36.00" text-anchor="start">0</text>
<path d="M1112.50,100.80 L1112.50,88.30 L1236.40,88.30 L1236.40,100.80" fill="none" stroke="#000" stroke-width="4.3" stroke-linejoin="round"/>
<path d="M1043.20,145.80 L1043.20,133.10 L1236.40,133.10 L1236.40,145.80" fill="none" stroke="#000" stroke-width="4.3" stroke-linejoin="round"/>
<line x1="1168.10" y1="133.10" x2="1168.10" y2="145.80" stroke="#000" stroke-width="5.5" stroke-linecap="butt"/>
<g fill="#000"><path transform="translate(1154.90,72.70) rotate(0)" d="M0,0 C-0.45,-1.8 -1.55,-3.6 -1.55,-5.25 A1.55,1.55 0 0 1 1.55,-5.25 C1.55,-3.6 0.45,-1.8 0,0 Z"/><path transform="translate(1154.90,72.70) rotate(60)" d="M0,0 C-0.45,-1.8 -1.55,-3.6 -1.55,-5.25 A1.55,1.55 0 0 1 1.55,-5.25 C1.55,-3.6 0.45,-1.8 0,0 Z"/><path transform="translate(1154.90,72.70) rotate(120)" d="M0,0 C-0.45,-1.8 -1.55,-3.6 -1.55,-5.25 A1.55,1.55 0 0 1 1.55,-5.25 C1.55,-3.6 0.45,-1.8 0,0 Z"/><path transform="translate(1154.90,72.70) rotate(180)" d="M0,0 C-0.45,-1.8 -1.55,-3.6 -1.55,-5.25 A1.55,1.55 0 0 1 1.55,-5.25 C1.55,-3.6 0.45,-1.8 0,0 Z"/><path transform="translate(1154.90,72.70) rotate(240)" d="M0,0 C-0.45,-1.8 -1.55,-3.6 -1.55,-5.25 A1.55,1.55 0 0 1 1.55,-5.25 C1.55,-3.6 0.45,-1.8 0,0 Z"/><path transform="translate(1154.90,72.70) rotate(300)" d="M0,0 C-0.45,-1.8 -1.55,-3.6 -1.55,-5.25 A1.55,1.55 0 0 1 1.55,-5.25 C1.55,-3.6 0.45,-1.8 0,0 Z"/><circle cx="1154.90" cy="72.70" r="1.1"/></g>
<g fill="#000"><path transform="translate(1174.60,72.70) rotate(0)" d="M0,0 C-0.45,-1.8 -1.55,-3.6 -1.55,-5.25 A1.55,1.55 0 0 1 1.55,-5.25 C1.55,-3.6 0.45,-1.8 0,0 Z"/><path transform="translate(1174.60,72.70) rotate(60)" d="M0,0 C-0.45,-1.8 -1.55,-3.6 -1.55,-5.25 A1.55,1.55 0 0 1 1.55,-5.25 C1.55,-3.6 0.45,-1.8 0,0 Z"/><path transform="translate(1174.60,72.70) rotate(120)" d="M0,0 C-0.45,-1.8 -1.55,-3.6 -1.55,-5.25 A1.55,1.55 0 0 1 1.55,-5.25 C1.55,-3.6 0.45,-1.8 0,0 Z"/><path transform="translate(1174.60,72.70) rotate(180)" d="M0,0 C-0.45,-1.8 -1.55,-3.6 -1.55,-5.25 A1.55,1.55 0 0 1 1.55,-5.25 C1.55,-3.6 0.45,-1.8 0,0 Z"/><path transform="translate(1174.60,72.70) rotate(240)" d="M0,0 C-0.45,-1.8 -1.55,-3.6 -1.55,-5.25 A1.55,1.55 0 0 1 1.55,-5.25 C1.55,-3.6 0.45,-1.8 0,0 Z"/><path transform="translate(1174.60,72.70) rotate(300)" d="M0,0 C-0.45,-1.8 -1.55,-3.6 -1.55,-5.25 A1.55,1.55 0 0 1 1.55,-5.25 C1.55,-3.6 0.45,-1.8 0,0 Z"/><circle cx="1174.60" cy="72.70" r="1.1"/></g>
<g fill="#000"><path transform="translate(1194.30,72.70) rotate(0)" d="M0,0 C-0.45,-1.8 -1.55,-3.6 -1.55,-5.25 A1.55,1.55 0 0 1 1.55,-5.25 C1.55,-3.6 0.45,-1.8 0,0 Z"/><path transform="translate(1194.30,72.70) rotate(60)" d="M0,0 C-0.45,-1.8 -1.55,-3.6 -1.55,-5.25 A1.55,1.55 0 0 1 1.55,-5.25 C1.55,-3.6 0.45,-1.8 0,0 Z"/><path transform="translate(1194.30,72.70) rotate(120)" d="M0,0 C-0.45,-1.8 -1.55,-3.6 -1.55,-5.25 A1.55,1.55 0 0 1 1.55,-5.25 C1.55,-3.6 0.45,-1.8 0,0 Z"/><path transform="translate(1194.30,72.70) rotate(180)" d="M0,0 C-0.45,-1.8 -1.55,-3.6 -1.55,-5.25 A1.55,1.55 0 0 1 1.55,-5.25 C1.55,-3.6 0.45,-1.8 0,0 Z"/><path transform="translate(1194.30,72.70) rotate(240)" d="M0,0 C-0.45,-1.8 -1.55,-3.6 -1.55,-5.25 A1.55,1.55 0 0 1 1.55,-5.25 C1.55,-3.6 0.45,-1.8 0,0 Z"/><path transform="translate(1194.30,72.70) rotate(300)" d="M0,0 C-0.45,-1.8 -1.55,-3.6 -1.55,-5.25 A1.55,1.55 0 0 1 1.55,-5.25 C1.55,-3.6 0.45,-1.8 0,0 Z"/><circle cx="1194.30" cy="72.70" r="1.1"/></g>
<g fill="#000"><path transform="translate(1088.00,117.80) rotate(0)" d="M0,0 C-0.45,-1.8 -1.55,-3.6 -1.55,-5.25 A1.55,1.55 0 0 1 1.55,-5.25 C1.55,-3.6 0.45,-1.8 0,0 Z"/><path transform="translate(1088.00,117.80) rotate(60)" d="M0,0 C-0.45,-1.8 -1.55,-3.6 -1.55,-5.25 A1.55,1.55 0 0 1 1.55,-5.25 C1.55,-3.6 0.45,-1.8 0,0 Z"/><path transform="translate(1088.00,117.80) rotate(120)" d="M0,0 C-0.45,-1.8 -1.55,-3.6 -1.55,-5.25 A1.55,1.55 0 0 1 1.55,-5.25 C1.55,-3.6 0.45,-1.8 0,0 Z"/><path transform="translate(1088.00,117.80) rotate(180)" d="M0,0 C-0.45,-1.8 -1.55,-3.6 -1.55,-5.25 A1.55,1.55 0 0 1 1.55,-5.25 C1.55,-3.6 0.45,-1.8 0,0 Z"/><path transform="translate(1088.00,117.80) rotate(240)" d="M0,0 C-0.45,-1.8 -1.55,-3.6 -1.55,-5.25 A1.55,1.55 0 0 1 1.55,-5.25 C1.55,-3.6 0.45,-1.8 0,0 Z"/><path transform="translate(1088.00,117.80) rotate(300)" d="M0,0 C-0.45,-1.8 -1.55,-3.6 -1.55,-5.25 A1.55,1.55 0 0 1 1.55,-5.25 C1.55,-3.6 0.45,-1.8 0,0 Z"/><circle cx="1088.00" cy="117.80" r="1.1"/></g>
<g fill="#000"><path transform="translate(1107.85,117.80) rotate(0)" d="M0,0 C-0.45,-1.8 -1.55,-3.6 -1.55,-5.25 A1.55,1.55 0 0 1 1.55,-5.25 C1.55,-3.6 0.45,-1.8 0,0 Z"/><path transform="translate(1107.85,117.80) rotate(60)" d="M0,0 C-0.45,-1.8 -1.55,-3.6 -1.55,-5.25 A1.55,1.55 0 0 1 1.55,-5.25 C1.55,-3.6 0.45,-1.8 0,0 Z"/><path transform="translate(1107.85,117.80) rotate(120)" d="M0,0 C-0.45,-1.8 -1.55,-3.6 -1.55,-5.25 A1.55,1.55 0 0 1 1.55,-5.25 C1.55,-3.6 0.45,-1.8 0,0 Z"/><path transform="translate(1107.85,117.80) rotate(180)" d="M0,0 C-0.45,-1.8 -1.55,-3.6 -1.55,-5.25 A1.55,1.55 0 0 1 1.55,-5.25 C1.55,-3.6 0.45,-1.8 0,0 Z"/><path transform="translate(1107.85,117.80) rotate(240)" d="M0,0 C-0.45,-1.8 -1.55,-3.6 -1.55,-5.25 A1.55,1.55 0 0 1 1.55,-5.25 C1.55,-3.6 0.45,-1.8 0,0 Z"/><path transform="translate(1107.85,117.80) rotate(300)" d="M0,0 C-0.45,-1.8 -1.55,-3.6 -1.55,-5.25 A1.55,1.55 0 0 1 1.55,-5.25 C1.55,-3.6 0.45,-1.8 0,0 Z"/><circle cx="1107.85" cy="117.80" r="1.1"/></g>
<g fill="#000"><path transform="translate(1127.70,117.80) rotate(0)" d="M0,0 C-0.45,-1.8 -1.55,-3.6 -1.55,-5.25 A1.55,1.55 0 0 1 1.55,-5.25 C1.55,-3.6 0.45,-1.8 0,0 Z"/><path transform="translate(1127.70,117.80) rotate(60)" d="M0,0 C-0.45,-1.8 -1.55,-3.6 -1.55,-5.25 A1.55,1.55 0 0 1 1.55,-5.25 C1.55,-3.6 0.45,-1.8 0,0 Z"/><path transform="translate(1127.70,117.80) rotate(120)" d="M0,0 C-0.45,-1.8 -1.55,-3.6 -1.55,-5.25 A1.55,1.55 0 0 1 1.55,-5.25 C1.55,-3.6 0.45,-1.8 0,0 Z"/><path transform="translate(1127.70,117.80) rotate(180)" d="M0,0 C-0.45,-1.8 -1.55,-3.6 -1.55,-5.25 A1.55,1.55 0 0 1 1.55,-5.25 C1.55,-3.6 0.45,-1.8 0,0 Z"/><path transform="translate(1127.70,117.80) rotate(240)" d="M0,0 C-0.45,-1.8 -1.55,-3.6 -1.55,-5.25 A1.55,1.55 0 0 1 1.55,-5.25 C1.55,-3.6 0.45,-1.8 0,0 Z"/><path transform="translate(1127.70,117.80) rotate(300)" d="M0,0 C-0.45,-1.8 -1.55,-3.6 -1.55,-5.25 A1.55,1.55 0 0 1 1.55,-5.25 C1.55,-3.6 0.45,-1.8 0,0 Z"/><circle cx="1127.70" cy="117.80" r="1.1"/></g>
<g fill="#000"><path transform="translate(1202.60,116.20) rotate(0)" d="M0,0 C-0.45,-1.8 -1.55,-3.6 -1.55,-5.25 A1.55,1.55 0 0 1 1.55,-5.25 C1.55,-3.6 0.45,-1.8 0,0 Z"/><path transform="translate(1202.60,116.20) rotate(60)" d="M0,0 C-0.45,-1.8 -1.55,-3.6 -1.55,-5.25 A1.55,1.55 0 0 1 1.55,-5.25 C1.55,-3.6 0.45,-1.8 0,0 Z"/><path transform="translate(1202.60,116.20) rotate(120)" d="M0,0 C-0.45,-1.8 -1.55,-3.6 -1.55,-5.25 A1.55,1.55 0 0 1 1.55,-5.25 C1.55,-3.6 0.45,-1.8 0,0 Z"/><path transform="translate(1202.60,116.20) rotate(180)" d="M0,0 C-0.45,-1.8 -1.55,-3.6 -1.55,-5.25 A1.55,1.55 0 0 1 1.55,-5.25 C1.55,-3.6 0.45,-1.8 0,0 Z"/><path transform="translate(1202.60,116.20) rotate(240)" d="M0,0 C-0.45,-1.8 -1.55,-3.6 -1.55,-5.25 A1.55,1.55 0 0 1 1.55,-5.25 C1.55,-3.6 0.45,-1.8 0,0 Z"/><path transform="translate(1202.60,116.20) rotate(300)" d="M0,0 C-0.45,-1.8 -1.55,-3.6 -1.55,-5.25 A1.55,1.55 0 0 1 1.55,-5.25 C1.55,-3.6 0.45,-1.8 0,0 Z"/><circle cx="1202.60" cy="116.20" r="1.1"/></g>
<rect x="1021.80" y="366.10" width="17.0" height="17.0" fill="none" stroke="#0000BB" stroke-width="2.3" stroke-linejoin="round"/>
<rect x="1020.10" y="387.50" width="17.0" height="17.0" fill="none" stroke="#0000BB" stroke-width="2.3" stroke-linejoin="round"/>
<rect x="1021.30" y="390.90" width="17.0" height="17.0" fill="none" stroke="#0000BB" stroke-width="2.3" stroke-linejoin="round"/>
<rect x="1043.70" y="380.20" width="17.0" height="17.0" fill="none" stroke="#0000BB" stroke-width="2.3" stroke-linejoin="round"/>
<rect x="1045.50" y="383.80" width="17.0" height="17.0" fill="none" stroke="#0000BB" stroke-width="2.3" stroke-linejoin="round"/>
<rect x="1043.20" y="387.40" width="17.0" height="17.0" fill="none" stroke="#0000BB" stroke-width="2.3" stroke-linejoin="round"/>
<rect x="1036.10" y="394.70" width="17.0" height="17.0" fill="none" stroke="#0000BB" stroke-width="2.3" stroke-linejoin="round"/>
<rect x="1029.10" y="408.70" width="17.0" height="17.0" fill="none" stroke="#0000BB" stroke-width="2.3" stroke-linejoin="round"/>
<line x1="1041.00" y1="391.00" x2="1041.00" y2="401.00" stroke="#000" stroke-width="4.2" stroke-linecap="butt"/>
<line x1="1030.90" y1="391.00" x2="1051.80" y2="391.00" stroke="#000" stroke-width="4.2" stroke-linecap="butt"/>
<line x1="1030.90" y1="401.00" x2="1051.80" y2="401.00" stroke="#000" stroke-width="4.2" stroke-linecap="butt"/>
<line x1="1020.10" y1="396.00" x2="1062.30" y2="396.00" stroke="#000" stroke-width="4.2" stroke-linecap="butt"/>
<circle cx="1115.40" cy="360.50" r="8.5" fill="none" stroke="#FF0000" stroke-width="2.3"/>
<circle cx="1096.60" cy="367.30" r="8.5" fill="none" stroke="#FF0000" stroke-width="2.3"/>
<circle cx="1097.20" cy="381.20" r="8.5" fill="none" stroke="#FF0000" stroke-width="2.3"/>
<circle cx="1098.00" cy="385.40" r="8.5" fill="none" stroke="#FF0000" stroke-width="2.3"/>
<circle cx="1114.40" cy="381.60" r="8.5" fill="none" stroke="#FF0000" stroke-width="2.3"/>
<circle cx="1110.50" cy="396.50" r="8.5" fill="none" stroke="#FF0000" stroke-width="2.3"/>
<circle cx="1106.00" cy="403.00" r="8.5" fill="none" stroke="#FF0000" stroke-width="2.3"/>
<circle cx="1106.40" cy="374.60" r="8.5" fill="none" stroke="#FF0000" stroke-width="2.3"/>
<line x1="1106.00" y1="367.80" x2="1106.00" y2="395.90" stroke="#000" stroke-width="4.2" stroke-linecap="butt"/>
<line x1="1095.90" y1="367.80" x2="1116.50" y2="367.80" stroke="#000" stroke-width="4.2" stroke-linecap="butt"/>
<line x1="1095.90" y1="395.90" x2="1116.50" y2="395.90" stroke="#000" stroke-width="4.2" stroke-linecap="butt"/>
<line x1="1084.80" y1="382.00" x2="1127.60" y2="382.00" stroke="#000" stroke-width="4.2" stroke-linecap="butt"/>
<rect x="1173.40" y="267.50" width="17.0" height="17.0" fill="#0000BB" stroke="#000" stroke-width="2.3" stroke-linejoin="round"/>
<rect x="1151.60" y="279.50" width="17.0" height="17.0" fill="#0000BB" stroke="#000" stroke-width="2.3" stroke-linejoin="round"/>
<rect x="1171.00" y="295.70" width="17.0" height="17.0" fill="#0000BB" stroke="#000" stroke-width="2.3" stroke-linejoin="round"/>
<rect x="1153.70" y="298.80" width="17.0" height="17.0" fill="#0000BB" stroke="#000" stroke-width="2.3" stroke-linejoin="round"/>
<rect x="1157.90" y="304.80" width="17.0" height="17.0" fill="#0000BB" stroke="#000" stroke-width="2.3" stroke-linejoin="round"/>
<rect x="1166.50" y="302.50" width="17.0" height="17.0" fill="#0000BB" stroke="#000" stroke-width="2.3" stroke-linejoin="round"/>
<rect x="1162.50" y="316.10" width="17.0" height="17.0" fill="#0000BB" stroke="#000" stroke-width="2.3" stroke-linejoin="round"/>
<rect x="1162.50" y="352.60" width="17.0" height="17.0" fill="#0000BB" stroke="#000" stroke-width="2.3" stroke-linejoin="round"/>
<line x1="1173.00" y1="301.80" x2="1173.00" y2="320.00" stroke="#000" stroke-width="4.2" stroke-linecap="butt"/>
<line x1="1160.40" y1="301.80" x2="1181.80" y2="301.80" stroke="#000" stroke-width="4.2" stroke-linecap="butt"/>
<line x1="1160.40" y1="320.00" x2="1181.80" y2="320.00" stroke="#000" stroke-width="4.2" stroke-linecap="butt"/>
<line x1="1149.40" y1="311.00" x2="1192.30" y2="311.00" stroke="#000" stroke-width="4.2" stroke-linecap="butt"/>
<circle cx="1235.90" cy="159.20" r="8.5" fill="#FF0000" stroke="#000" stroke-width="2.3"/>
<circle cx="1235.90" cy="189.50" r="8.5" fill="#FF0000" stroke="#000" stroke-width="2.3"/>
<circle cx="1235.90" cy="225.90" r="8.5" fill="#FF0000" stroke="#000" stroke-width="2.3"/>
<circle cx="1247.00" cy="253.20" r="8.5" fill="#FF0000" stroke="#000" stroke-width="2.3"/>
<circle cx="1213.40" cy="267.60" r="8.5" fill="#FF0000" stroke="#000" stroke-width="2.3"/>
<circle cx="1224.90" cy="283.90" r="8.5" fill="#FF0000" stroke="#000" stroke-width="2.3"/>
<circle cx="1247.00" cy="306.90" r="8.5" fill="#FF0000" stroke="#000" stroke-width="2.3"/>
<circle cx="1235.90" cy="338.20" r="8.5" fill="#FF0000" stroke="#000" stroke-width="2.3"/>
<line x1="1235.50" y1="193.70" x2="1235.50" y2="312.70" stroke="#000" stroke-width="4.2" stroke-linecap="butt"/>
<line x1="1225.30" y1="193.70" x2="1246.00" y2="193.70" stroke="#000" stroke-width="4.2" stroke-linecap="butt"/>
<line x1="1225.30" y1="312.70" x2="1246.00" y2="312.70" stroke="#000" stroke-width="4.2" stroke-linecap="butt"/>
<line x1="1214.40" y1="253.20" x2="1257.20" y2="253.20" stroke="#000" stroke-width="4.2" stroke-linecap="butt"/>
<line x1="137.50" y1="673.65" x2="137.50" y2="1102.55" stroke="#000" stroke-width="4.3" stroke-linecap="butt"/>
<line x1="125.50" y1="675.80" x2="137.50" y2="675.80" stroke="#000" stroke-width="4.3" stroke-linecap="butt"/>
<line x1="125.50" y1="760.80" x2="137.50" y2="760.80" stroke="#000" stroke-width="4.3" stroke-linecap="butt"/>
<line x1="125.50" y1="845.80" x2="137.50" y2="845.80" stroke="#000" stroke-width="4.3" stroke-linecap="butt"/>
<line x1="125.50" y1="930.80" x2="137.50" y2="930.80" stroke="#000" stroke-width="4.3" stroke-linecap="butt"/>
<line x1="125.50" y1="1015.80" x2="137.50" y2="1015.80" stroke="#000" stroke-width="4.3" stroke-linecap="butt"/>
<line x1="125.50" y1="1100.40" x2="422.80" y2="1100.40" stroke="#000" stroke-width="4.3" stroke-linecap="butt"/>
<line x1="208.30" y1="1100.40" x2="208.30" y2="1112.00" stroke="#000" stroke-width="4.3" stroke-linecap="butt"/>
<line x1="350.00" y1="1100.40" x2="350.00" y2="1112.00" stroke="#000" stroke-width="4.3" stroke-linecap="butt"/>
<text x="88.33" y="686.51" font-size="33.30" text-anchor="start">50</text>
<text x="88.33" y="771.51" font-size="33.30" text-anchor="start">40</text>
<text x="88.33" y="856.51" font-size="33.30" text-anchor="start">30</text>
<text x="88.33" y="941.51" font-size="33.30" text-anchor="start">20</text>
<text x="88.33" y="1026.51" font-size="33.30" text-anchor="start">10</text>
<text x="104.98" y="1111.51" font-size="33.30" text-anchor="start">0</text>
<path d="M226.20,685.70 L226.20,673.60 L347.80,673.60 L347.80,685.70" fill="none" stroke="#000" stroke-width="4.3" stroke-linejoin="round"/>
<g fill="#000"><path transform="translate(286.60,657.80) rotate(0)" d="M0,0 C-0.45,-1.8 -1.55,-3.6 -1.55,-5.25 A1.55,1.55 0 0 1 1.55,-5.25 C1.55,-3.6 0.45,-1.8 0,0 Z"/><path transform="translate(286.60,657.80) rotate(60)" d="M0,0 C-0.45,-1.8 -1.55,-3.6 -1.55,-5.25 A1.55,1.55 0 0 1 1.55,-5.25 C1.55,-3.6 0.45,-1.8 0,0 Z"/><path transform="translate(286.60,657.80) rotate(120)" d="M0,0 C-0.45,-1.8 -1.55,-3.6 -1.55,-5.25 A1.55,1.55 0 0 1 1.55,-5.25 C1.55,-3.6 0.45,-1.8 0,0 Z"/><path transform="translate(286.60,657.80) rotate(180)" d="M0,0 C-0.45,-1.8 -1.55,-3.6 -1.55,-5.25 A1.55,1.55 0 0 1 1.55,-5.25 C1.55,-3.6 0.45,-1.8 0,0 Z"/><path transform="translate(286.60,657.80) rotate(240)" d="M0,0 C-0.45,-1.8 -1.55,-3.6 -1.55,-5.25 A1.55,1.55 0 0 1 1.55,-5.25 C1.55,-3.6 0.45,-1.8 0,0 Z"/><path transform="translate(286.60,657.80) rotate(300)" d="M0,0 C-0.45,-1.8 -1.55,-3.6 -1.55,-5.25 A1.55,1.55 0 0 1 1.55,-5.25 C1.55,-3.6 0.45,-1.8 0,0 Z"/><circle cx="286.60" cy="657.80" r="1.1"/></g>
<line x1="208.30" y1="967.50" x2="208.30" y2="997.00" stroke="#000" stroke-width="4.2" stroke-linecap="butt"/>
<line x1="185.50" y1="967.50" x2="230.90" y2="967.50" stroke="#000" stroke-width="4.2" stroke-linecap="butt"/>
<line x1="185.50" y1="997.00" x2="230.90" y2="997.00" stroke="#000" stroke-width="4.2" stroke-linecap="butt"/>
<line x1="161.20" y1="982.30" x2="255.70" y2="982.30" stroke="#000" stroke-width="4.2" stroke-linecap="butt"/>
<rect x="187.20" y="911.90" width="17.0" height="17.0" fill="#0000BB" stroke="#000" stroke-width="2.3" stroke-linejoin="round"/>
<rect x="212.60" y="926.00" width="17.0" height="17.0" fill="#0000BB" stroke="#000" stroke-width="2.3" stroke-linejoin="round"/>
<rect x="212.60" y="962.20" width="17.0" height="17.0" fill="#0000BB" stroke="#000" stroke-width="2.3" stroke-linejoin="round"/>
<rect x="187.20" y="980.50" width="17.0" height="17.0" fill="#0000BB" stroke="#000" stroke-width="2.3" stroke-linejoin="round"/>
<rect x="174.10" y="967.10" width="17.0" height="17.0" fill="#0000BB" stroke="#000" stroke-width="2.3" stroke-linejoin="round"/>
<rect x="225.80" y="996.70" width="17.0" height="17.0" fill="#0000BB" stroke="#000" stroke-width="2.3" stroke-linejoin="round"/>
<rect x="212.60" y="1012.60" width="17.0" height="17.0" fill="#0000BB" stroke="#000" stroke-width="2.3" stroke-linejoin="round"/>
<rect x="187.20" y="1035.20" width="17.0" height="17.0" fill="#0000BB" stroke="#000" stroke-width="2.3" stroke-linejoin="round"/>
<line x1="349.50" y1="849.80" x2="349.50" y2="934.90" stroke="#000" stroke-width="4.2" stroke-linecap="butt"/>
<line x1="326.30" y1="849.80" x2="373.30" y2="849.80" stroke="#000" stroke-width="4.2" stroke-linecap="butt"/>
<line x1="326.30" y1="934.90" x2="373.30" y2="934.90" stroke="#000" stroke-width="4.2" stroke-linecap="butt"/>
<line x1="302.50" y1="891.90" x2="396.50" y2="891.90" stroke="#000" stroke-width="4.2" stroke-linecap="butt"/>
<circle cx="349.50" cy="705.50" r="8.5" fill="#FF0000" stroke="#000" stroke-width="2.3"/>
<circle cx="349.50" cy="760.40" r="8.5" fill="#FF0000" stroke="#000" stroke-width="2.3"/>
<circle cx="336.90" cy="841.50" r="8.5" fill="#FF0000" stroke="#000" stroke-width="2.3"/>
<circle cx="362.10" cy="853.80" r="8.5" fill="#FF0000" stroke="#000" stroke-width="2.3"/>
<circle cx="349.50" cy="948.10" r="8.5" fill="#FF0000" stroke="#000" stroke-width="2.3"/>
<circle cx="336.90" cy="995.10" r="8.5" fill="#FF0000" stroke="#000" stroke-width="2.3"/>
<circle cx="362.10" cy="996.10" r="8.5" fill="#FF0000" stroke="#000" stroke-width="2.3"/>
<circle cx="349.50" cy="1035.90" r="8.5" fill="#FF0000" stroke="#000" stroke-width="2.3"/>
</svg>
</body></html>
